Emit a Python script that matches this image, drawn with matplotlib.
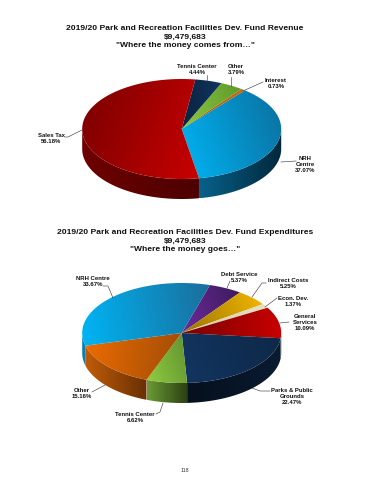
import numpy as np
import matplotlib
matplotlib.use('Agg')
from matplotlib import pyplot as plt
from matplotlib.colors import LinearSegmentedColormap
from matplotlib.patches import Polygon

plt.rcParams['font.family'] = ['Liberation Sans', 'DejaVu Sans']

# revenue pie
rev_labels = ['NRH\nCentre\n37.07%', 'Interest\n0.73%', 'Other\n3.79%', 'Tennis Center\n4.44%', 'Sales Tax\n56.18%']
rev_values = [37.07, 0.73, 3.79, 4.44, 56.18]
rev_top = [('#0b6f9e', '#00b4f4', 200), ('#a85510', '#c86a10', 0), ('#5f9a2c', '#8cc63f', 200),
           ('#0a2340', '#123560', 0), ('#7a0000', '#c80000', -20)]
rev_side = [('#08618a', '#00283c'), ('#7a3c08', '#7a3c08'), ('#3c6a1c', '#3c6a1c'),
            ('#0a2340', '#0a2340'), ('#6e0000', '#4d0000')]
rev_title = '2019/20 Park and Recreation Facilities Dev. Fund Revenue\n$9,479,683\n"Where the money comes from…"'

# expenditure pie, clockwise from the top
exp_labels = ['Debt Service\n5.37%', 'Indirect Costs\n5.25%', 'Econ. Dev.\n1.37%', 'General\nServices\n10.09%',
              'Parks & Public\nGrounds\n22.47%', 'Tennis Center\n6.62%', 'Other\n15.16%', 'NRH Centre\n33.67%']
exp_values = [5.37, 5.25, 1.37, 10.09, 22.47, 6.62, 15.16, 33.67]
exp_top = [('#3c1a5a', '#6c2a9e', 200), ('#9a7400', '#f4b800', 20), ('#cfc8a8', '#e8e2c4', 0),
           ('#7a0000', '#c80000', 0), ('#0e2848', '#123560', 200), ('#5f9030', '#90cc40', 200),
           ('#a04c08', '#ec6c00', 170), ('#1a6f9c', '#00b4f4', 190)]
exp_side = [('#4a1f78', '#4a1f78'), ('#8a6800', '#8a6800'), ('#b0a888', '#b0a888'), ('#6a0000', '#3a0000'),
            ('#06101e', '#0a1a30'), ('#6a9a34', '#2c3f14'), ('#c05c08', '#6a3004'), ('#0a7fb0', '#0a7fb0')]
exp_title = '2019/20 Park and Recreation Facilities Dev. Fund Expenditures\n$9,479,683\n"Where the money goes…"'

fig = plt.figure(figsize=(3.7, 4.8), dpi=100)
ax = fig.add_axes([0, 0, 1, 1])


def fill(points, cols, direction):
    pts = np.array(points)
    x0, y0 = pts.min(axis=0)
    x1, y1 = pts.max(axis=0)
    yy, xx = np.mgrid[0:1:48j, 0:1:48j]
    a = np.radians(direction)
    g = xx * np.cos(a) * (x1 - x0) - yy * np.sin(a) * (y1 - y0)
    cm = LinearSegmentedColormap.from_list('w', cols)
    im = ax.imshow(g, extent=(x0, x1, y1, y0), cmap=cm, aspect='auto', interpolation='bilinear', zorder=2)
    im.set_clip_path(Polygon(pts, closed=True, transform=ax.transData))


def pie(values, start, sign, top, side, cx, cy, rx, ry, depth):
    sweep = np.array(values) / sum(values) * 360 * sign
    edges = start + np.concatenate([[0], np.cumsum(sweep)])
    for i in range(len(values)):
        lo, hi = sorted([edges[i], edges[i + 1]])
        # the wall shows only on the front half of the rim
        for k in range(-2, 2):
            a0 = max(lo, 180 + 360 * k)
            a1 = min(hi, 360 + 360 * k)
            if a1 <= a0:
                continue
            t = np.radians(np.linspace(a0, a1, 80))
            x = cx + rx * np.cos(t)
            y = cy - ry * np.sin(t)
            wall = list(zip(x, y)) + list(zip(x[::-1], y[::-1] + depth))
            fill(wall, side[i], 0)
    for i in range(len(values)):
        t = np.radians(np.linspace(edges[i], edges[i + 1], 120))
        rim = list(zip(cx + rx * np.cos(t), cy - ry * np.sin(t)))
        fill([(cx, cy)] + rim, [top[i][0], top[i][1]], top[i][2])


def lab(text, x, y, line):
    ax.text(x, y, text, ha='center', va='center', fontsize=4.3, fontweight='bold', linespacing=1.25, color='#111111', zorder=4)
    ax.plot(line[0], line[1], color='#444444', lw=0.45, zorder=3)


ax.text(185, 37, rev_title, ha='center', va='center', fontsize=6.1, fontweight='bold', linespacing=1.21, color='#111111')
ax.text(185, 241, exp_title, ha='center', va='center', fontsize=6.1, fontweight='bold', linespacing=1.21, color='#111111')

pie(rev_values, 280, 1, rev_top, rev_side, 181.7, 129, 99.5, 50, 20)
pie(exp_values, 73.5, -1, exp_top, exp_side, 181.7, 333, 99.5, 50, 20)

lab(rev_labels[0], 305, 165, ([281, 296], [162, 161]))
lab(rev_labels[1], 276, 84, ([243, 263], [91, 82]))
lab(rev_labels[2], 236, 70, ([231, 231], [77, 86]))
lab(rev_labels[3], 197, 69, ([207, 207], [75, 81]))
lab(rev_labels[4], 51, 138.5, ([65, 68, 82], [137, 137, 130]))

lab(exp_labels[7], 93, 281, ([103, 108, 113], [286, 286, 298]))
lab(exp_labels[0], 239, 277, ([230, 227], [281, 288]))
lab(exp_labels[1], 288, 284, ([266, 262, 252], [283, 283, 297]))
lab(exp_labels[2], 293, 301, ([277, 265], [298, 307]))
lab(exp_labels[3], 305, 323, ([289, 280], [322, 323]))
lab(exp_labels[4], 292, 396, ([270, 260, 252], [391, 391, 388]))
lab(exp_labels[5], 135, 418, ([156, 160, 163], [414, 412, 403]))
lab(exp_labels[6], 82, 393, ([92, 105], [392, 385]))

ax.text(185, 471, '118', ha='center', va='center', fontsize=3.8, color='#333333')

ax.set_xlim(0, 370)
ax.set_ylim(480, 0)
ax.axis('off')
fig.savefig('out.png', dpi=100, facecolor='white')
